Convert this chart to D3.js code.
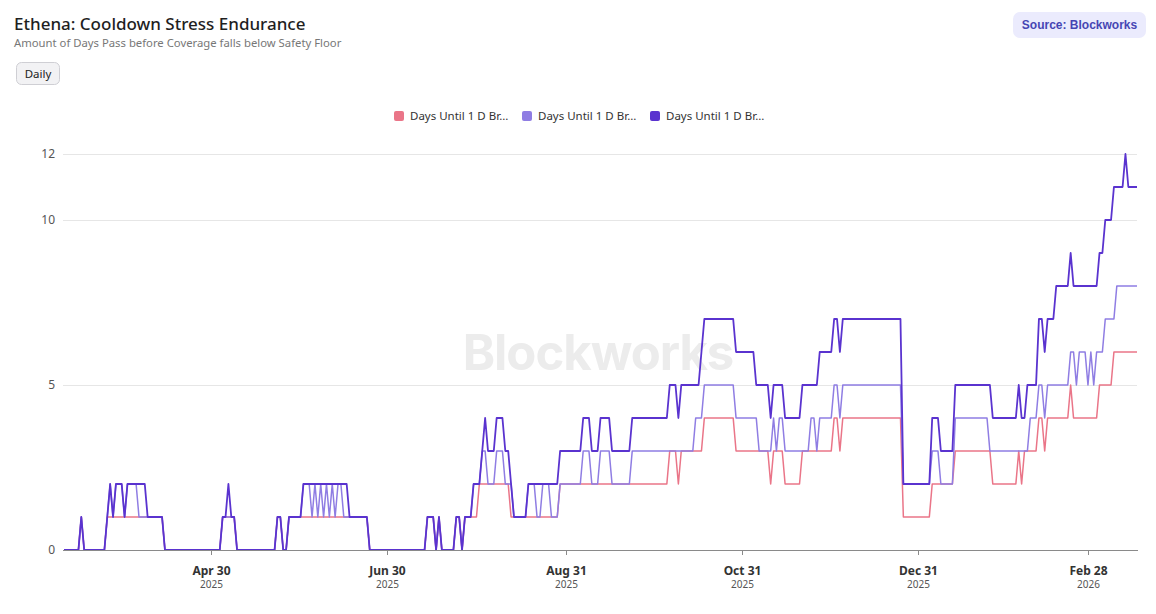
<!DOCTYPE html>
<html>
<head>
<meta charset="utf-8">
<script src="https://cdn.jsdelivr.net/npm/d3@7"></script>
<style>
  html, body { margin: 0; padding: 0; background: #fff; }
  svg { display: block; font-family: "Noto Sans", "Open Sans", sans-serif; }
</style>
</head>
<body>
<svg id="chart" width="1156" height="614"></svg>
<script>
// daily series, first point 2025-03-10, last 2026-03-17
var startDate = new Date(2025, 2, 10);

var seriesNames = ['Days Until 1 D Br...', 'Days Until 1 D Br...', 'Days Until 1 D Br...'];

var pinkDays = [
	0,0,0,0,0,0,1,0,0,0, 0,0,0,0,0,1,1,1,1,1, 1,1,1,1,1,1,1,1,1,1, 1,1,1,1,1,0,0,0,0,0,
	0,0,0,0,0,0,0,0,0,0, 0,0,0,0,0,1,1,1,1,1, 0,0,0,0,0,0,0,0,0,0, 0,0,0,0,1,1,0,0,1,1,
	1,1,1,1,1,1,1,1,1,1, 1,1,1,1,1,1,1,1,1,1, 1,1,1,1,1,1,0,0,0,0, 0,0,0,0,0,0,0,0,0,0,
	0,0,0,0,0,0,1,1,1,0, 1,0,0,0,0,0,1,1,0,1, 1,1,1,1,2,2,2,2,2,2, 2,2,2,2,2,1,1,1,1,1,
	1,1,1,1,1,1,1,1,1,1, 1,1,2,2,2,2,2,2,2,2, 2,2,2,2,2,2,2,2,2,2, 2,2,2,2,2,2,2,2,2,2,
	2,2,2,2,2,2,2,2,2,2, 3,3,3,2,3,3,3,3,3,3, 3,3,4,4,4,4,4,4,4,4, 4,4,4,3,3,3,3,3,3,3,
	3,3,3,3,3,2,3,3,3,3, 2,2,2,2,2,2,3,3,3,3, 3,3,3,3,3,3,3,4,4,3, 4,4,4,4,4,4,4,4,4,4,
	4,4,4,4,4,4,4,4,4,4, 4,1,1,1,1,1,1,1,1,1, 1,2,2,2,2,2,2,2,2,3, 3,3,3,3,3,3,3,3,3,3,
	3,3,2,2,2,2,2,2,2,2, 2,3,2,3,3,3,3,3,4,4, 3,4,4,4,4,4,4,4,4,5, 4,4,4,4,4,4,4,4,4,5,
	5,5,5,5,6,6,6,6,6,6, 6,6,6
];

var lightDays = [
	0,0,0,0,0,0,1,0,0,0, 0,0,0,0,0,1,2,1,2,2, 2,1,2,2,2,2,1,1,1,1, 1,1,1,1,1,0,0,0,0,0,
	0,0,0,0,0,0,0,0,0,0, 0,0,0,0,0,1,1,1,1,1, 0,0,0,0,0,0,0,0,0,0, 0,0,0,0,1,1,0,0,1,1,
	1,1,1,2,2,2,1,2,1,2, 1,2,1,2,1,2,2,1,1,1, 1,1,1,1,1,1,0,0,0,0, 0,0,0,0,0,0,0,0,0,0,
	0,0,0,0,0,0,1,1,1,0, 1,0,0,0,0,0,1,1,0,1, 1,1,2,2,2,3,3,2,2,2, 3,3,3,2,2,2,1,1,1,1,
	1,2,2,2,1,1,2,2,2,1, 1,1,2,2,2,2,2,2,2,2, 3,3,3,2,2,2,3,3,3,3, 2,2,2,2,2,2,2,3,3,3,
	3,3,3,3,3,3,3,3,3,3, 3,3,3,3,3,3,3,3,3,4, 4,4,5,5,5,5,5,5,5,5, 5,5,5,4,4,4,4,4,4,4,
	4,3,3,3,3,3,4,3,4,4, 3,3,3,3,3,3,3,3,3,4, 4,3,4,4,4,4,4,5,5,4, 5,5,5,5,5,5,5,5,5,5,
	5,5,5,5,5,5,5,5,5,5, 5,2,2,2,2,2,2,2,2,2, 2,3,3,3,2,2,2,2,2,4, 4,4,4,4,4,4,4,4,4,4,
	4,3,3,3,3,3,3,3,3,3, 3,3,3,3,3,4,4,4,5,5, 4,5,5,5,5,5,5,5,5,6, 6,5,6,6,6,5,6,5,6,6,
	6,7,7,7,7,8,8,8,8,8, 8,8,8
];

var darkDays = [
	0,0,0,0,0,0,1,0,0,0, 0,0,0,0,0,1,2,1,2,2, 2,1,2,2,2,2,2,2,2,1, 1,1,1,1,1,0,0,0,0,0,
	0,0,0,0,0,0,0,0,0,0, 0,0,0,0,0,1,1,2,1,1, 0,0,0,0,0,0,0,0,0,0, 0,0,0,0,1,1,0,0,1,1,
	1,1,1,2,2,2,2,2,2,2, 2,2,2,2,2,2,2,2,2,1, 1,1,1,1,1,1,0,0,0,0, 0,0,0,0,0,0,0,0,0,0,
	0,0,0,0,0,0,1,1,1,0, 1,0,0,0,0,0,1,1,0,1, 1,1,2,2,2,3,4,3,3,3, 4,4,4,3,3,2,1,1,1,1,
	1,2,2,2,2,2,2,2,2,2, 2,2,3,3,3,3,3,3,3,3, 4,4,4,3,3,3,4,4,4,4, 3,3,3,3,3,3,3,4,4,4,
	4,4,4,4,4,4,4,4,4,4, 5,5,5,4,5,5,5,5,5,5, 5,6,7,7,7,7,7,7,7,7, 7,7,7,6,6,6,6,6,6,6,
	5,5,5,5,5,4,5,5,5,5, 4,4,4,4,4,4,5,5,5,5, 5,5,6,6,6,6,6,7,7,6, 7,7,7,7,7,7,7,7,7,7,
	7,7,7,7,7,7,7,7,7,7, 7,2,2,2,2,2,2,2,2,2, 2,4,4,4,3,3,3,3,3,5, 5,5,5,5,5,5,5,5,5,5,
	5,5,4,4,4,4,4,4,4,4, 4,5,4,4,5,5,5,5,7,7, 6,7,7,7,8,8,8,8,8,9, 8,8,8,8,8,8,8,8,8,9,
	9,10,10,10,11,11,11,11,12,11, 11,11,11
];

var seriesColors = ['#ea7588', '#8f7de3', '#5a33cf'];
var yTicks = [0, 5, 10, 12];
var xTickDates = [new Date(2025, 3, 30), new Date(2025, 5, 30), new Date(2025, 7, 31),
	new Date(2025, 9, 31), new Date(2025, 11, 31), new Date(2026, 1, 28)];

var margin = { left: 64, right: 1137, top: 154, bottom: 550 };

var svg = d3.select('#chart');
var dates = darkDays.map(function(v, i) { return d3.timeDay.offset(startDate, i); });

var x = d3.scaleTime()
	.domain([dates[0], dates[dates.length - 1]])
	.range([margin.left, margin.right]);
var y = d3.scaleLinear()
	.domain([0, 12])
	.range([margin.bottom, margin.top]);

// header
svg.append('text')
	.attr('x', 14).attr('y', 30)
	.attr('font-size', 17).attr('font-weight', 500).attr('fill', '#1f1f1f')
	.text('Ethena: Cooldown Stress Endurance');
svg.append('text')
	.attr('x', 14).attr('y', 47)
	.attr('font-size', 11.3).attr('fill', '#777')
	.text('Amount of Days Pass before Coverage falls below Safety Floor');

svg.append('rect')
	.attr('x', 16.5).attr('y', 62.5).attr('width', 43).attr('height', 22).attr('rx', 5)
	.attr('fill', '#f2f2f4').attr('stroke', '#cfcfd4');
svg.append('text')
	.attr('x', 38).attr('y', 78).attr('text-anchor', 'middle')
	.attr('font-size', 11.5).attr('fill', '#222')
	.text('Daily');

svg.append('rect')
	.attr('x', 1013).attr('y', 12).attr('width', 133).attr('height', 26).attr('rx', 7)
	.attr('fill', '#ebebfd');
svg.append('text')
	.attr('x', 1079.5).attr('y', 29).attr('text-anchor', 'middle')
	.attr('font-size', 12).attr('font-weight', 700).attr('fill', '#4646b4')
	.attr('font-family', 'Liberation Sans, Arial, sans-serif')
	.text('Source: Blockworks');

// watermark
svg.append('text')
	.attr('x', 598).attr('y', 370).attr('text-anchor', 'middle')
	.attr('font-size', 49).attr('font-weight', 700).attr('fill', '#ececec')
	.attr('font-family', 'Inter, Roboto, sans-serif').attr('letter-spacing', -1)
	.text('Blockworks');

// legend
var legendX = [394, 522, 650];
var legend = svg.append('g');
seriesNames.forEach(function(name, i) {
	legend.append('rect')
		.attr('x', legendX[i]).attr('y', 111).attr('width', 10).attr('height', 10).attr('rx', 2)
		.attr('fill', seriesColors[i]);
	legend.append('text')
		.attr('x', legendX[i] + 16).attr('y', 120)
		.attr('font-size', 11.5).attr('fill', '#333')
		.text(name);
});

// grid + y labels
var yAxis = svg.append('g');
yTicks.forEach(function(t) {
	if (t > 0) {
		yAxis.append('line')
			.attr('x1', margin.left - 1).attr('x2', margin.right)
			.attr('y1', y(t) + 0.5).attr('y2', y(t) + 0.5)
			.attr('stroke', '#e6e6e6');
	}
	yAxis.append('text')
		.attr('x', 55).attr('y', y(t) + 4).attr('text-anchor', 'end')
		.attr('font-size', 12).attr('fill', '#555')
		.text(t);
});

// lines
var line = d3.line()
	.x(function(d, i) { return x(dates[i]); })
	.y(function(d) { return y(d); });

[pinkDays, lightDays, darkDays].forEach(function(values, i) {
	svg.append('path')
		.datum(values)
		.attr('fill', 'none')
		.attr('stroke', seriesColors[i])
		.attr('stroke-width', i === 2 ? 1.8 : 1.5)
		.attr('stroke-linejoin', 'round')
		.attr('d', line);
});

// x axis
var xAxis = svg.append('g');
xAxis.append('line')
	.attr('x1', margin.left - 1).attr('x2', margin.right + 1)
	.attr('y1', margin.bottom + 0.5).attr('y2', margin.bottom + 0.5)
	.attr('stroke', '#8a8a8a');

var fmtDay = d3.timeFormat('%b %d'), fmtYear = d3.timeFormat('%Y');
xTickDates.forEach(function(d) {
	var px = Math.round(x(d)) + 0.5;
	xAxis.append('line')
		.attr('x1', px).attr('x2', px)
		.attr('y1', margin.bottom).attr('y2', margin.bottom + 5)
		.attr('stroke', '#8a8a8a');
	xAxis.append('text')
		.attr('x', px).attr('y', 575).attr('text-anchor', 'middle')
		.attr('font-size', 12).attr('font-weight', 700).attr('fill', '#333')
		.text(fmtDay(d));
	xAxis.append('text')
		.attr('x', px).attr('y', 588).attr('text-anchor', 'middle')
		.attr('font-size', 10).attr('fill', '#555')
		.text(fmtYear(d));
});
</script>
</body>
</html>
